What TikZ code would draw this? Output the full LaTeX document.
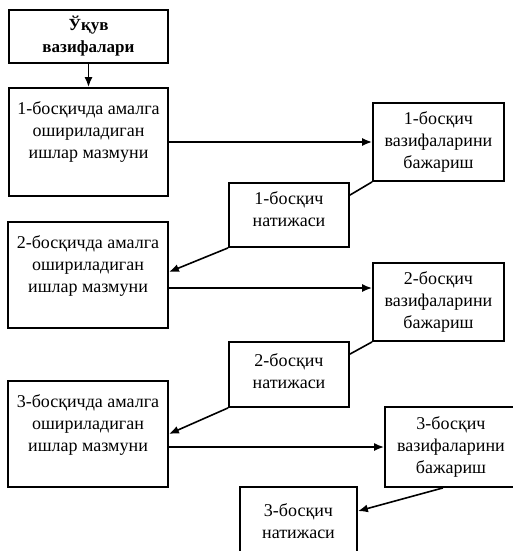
\documentclass[tikz,border=0pt]{standalone}
\usepackage{fontspec}
\setmainfont{Liberation Serif}
\usepackage{tikz}
\usetikzlibrary{arrows.meta, calc}

% text in a fixed-size box, set from the top
\newcommand{\toptext}[4]{\parbox[c][#2][t]{#1}{\centering\rule{0pt}{#3}#4}}

\begin{document}
\begin{tikzpicture}[
    x=0.5pt, y=-0.5pt,
    stage/.style={draw, line width=0.9pt, inner sep=0pt, font=\fontsize{9}{11}\selectfont},
    task/.style={stage, align=center, minimum width=65.5pt, minimum height=39pt},
    arr/.style={-{Latex[length=5pt, width=4pt]}, line width=0.8pt},
    link/.style={line width=0.8pt}
]
    \clip (0,0) rectangle (513,551);

    \node[stage, align=center, minimum width=79.5pt, minimum height=26.5pt,
          font=\fontsize{8.5}{11}\selectfont\bfseries] (goal) at (88.5,36.5) {Ўқув\\вазифалари};

    \node[stage] (b1) at (88.5,142) {\toptext{79.5pt}{54pt}{13pt}{1-босқичда амалга\\ошириладиган\\ишлар мазмуни}};
    \node[stage] (b2) at (88,275) {\toptext{80pt}{53pt}{13pt}{2-босқичда амалга\\ошириладиган\\ишлар мазмуни}};
    \node[stage] (b3) at (88,434) {\toptext{80pt}{53pt}{13pt}{3-босқичда амалга\\ошириладиган\\ишлар мазмуни}};

    \node[task] (c1) at (438.5,142) {1-босқич\\вазифаларини\\бажариш};
    \node[task] (c2) at (438.5,302) {2-босқич\\вазифаларини\\бажариш};
    \node[task, minimum width=66pt, minimum height=40pt] (c3) at (451,447) {3-босқич\\вазифаларини\\бажариш};

    \node[stage] (d1) at (289,215) {\toptext{60pt}{32pt}{10.5pt}{1-босқич\\натижаси}};
    \node[stage] (d2) at (289,374.5) {\toptext{60pt}{32.5pt}{12pt}{2-босқич\\натижаси}};
    \node[stage] (d3) at (298.5,526) {\toptext{58.5pt}{39pt}{14.5pt}{3-босқич\\натижаси}};

    \draw[arr] (goal) -- (b1);

    % stage 1
    \draw[arr] (b1) -- (c1);
    \draw[link] (c1.south west) -- ($(d1.north east)+(0,13)$);
    \draw[arr] (d1.south west) -- ($(b2.east)+(0,-3)$);

    % stage 2
    \draw[arr] ($(b2.east)+(0,13)$) coordinate (o2) -- (o2 -| c2.west);
    \draw[link] (c2.south west) -- ($(d2.north east)+(0,13)$);
    \draw[arr] (d2.south west) -- (b3.east);

    % stage 3
    \draw[arr] ($(b3.east)+(0,13)$) coordinate (o3) -- (o3 -| c3.west);
    \draw[arr] ($(c3.south)+(-8,0)$) -- ($(d3.north east)+(0,25)$);
\end{tikzpicture}
\end{document}
